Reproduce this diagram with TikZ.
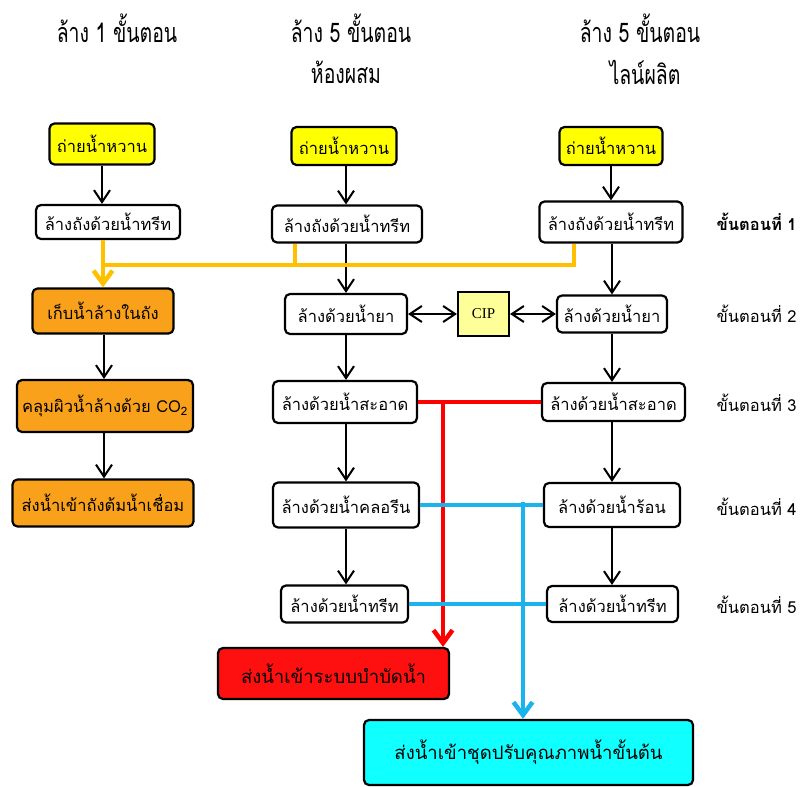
\documentclass[tikz,border=0pt]{standalone}
\usepackage{fontspec}
\usetikzlibrary{positioning,arrows.meta}
\newfontfamily\thaifont[Script=Thai]{Loma}
\newfontfamily\headfont[Script=Thai,FakeStretch=0.72]{Loma}
\newfontfamily\cipfont{Liberation Serif}
\definecolor{Syrup}{HTML}{FFFF00}
\definecolor{Store}{HTML}{F9A11B}
\definecolor{Drain}{HTML}{FF1010}
\definecolor{Treat}{HTML}{10FFFF}
\definecolor{CipFill}{HTML}{FFFF99}
\definecolor{Reuse}{HTML}{FFC000}
\definecolor{Rinse}{HTML}{1BB3EE}
\definecolor{Waste}{HTML}{FF0000}

\begin{document}
\begin{tikzpicture}[x=1pt, y=-1pt, every node/.style={font=\thaifont\fontsize{16.5}{19}\selectfont}]
        \tikzstyle{box}=[draw, line width=2.2pt, rounded corners=5pt, inner sep=2pt, fill=white]
        \tikzstyle{big}=[font=\thaifont\fontsize{18.5}{22}\selectfont]
        \tikzstyle{head}=[font=\headfont\fontsize{27}{30}\selectfont]
        \tikzstyle{flow}=[line width=2pt, -{Straight Barb[length=12pt,width=16pt]}]
        \tikzstyle{both}=[line width=2pt, {Straight Barb[length=12pt,width=16pt]}-{Straight Barb[length=12pt,width=16pt]}]
        \tikzstyle{pipe}=[line width=4.5pt, -{Straight Barb[length=13pt,width=19pt]}]
        \useasboundingbox (0,0) rectangle (804,787);

        % headings
        \node[head] (h1) at (117,28) {ล้าง 1 ขั้นตอน};
        \node[head] (h2) at (351,28) {ล้าง 5 ขั้นตอน};
        \node[head] (h2b) at (346,72) {ห้องผสม};
        \node[head] (h3) at (640,28) {ล้าง 5 ขั้นตอน};
        \node[head] (h3b) at (645,72) {ไลน์ผลิต};

        % one-step wash
        \node[box, fill=Syrup, minimum width=105pt, minimum height=41pt] (y1) at (102,144) {ถ่ายน้ำหวาน};
        \node[box, minimum width=144pt, minimum height=34pt] (w1) at (108,222) {ล้างถังด้วยน้ำทรีท};
        \node[box, fill=Store, minimum width=141pt, minimum height=45pt] (o1) at (103,311) {เก็บน้ำล้างในถัง};
        \node[box, fill=Store, minimum width=176pt, minimum height=52pt] (o2) at (105,406) {คลุมผิวน้ำล้างด้วย CO\textsubscript{2}};
        \node[box, fill=Store, minimum width=181pt, minimum height=47pt] (o3) at (103,503) {ส่งน้ำเข้าถังต้มน้ำเชื่อม};

        % five-step wash, mixing room
        \node[box, fill=Syrup, minimum width=105pt, minimum height=38pt] (y2) at (344,146) {ถ่ายน้ำหวาน};
        \node[box, minimum width=150pt, minimum height=37pt] (w2) at (347,224) {ล้างถังด้วยน้ำทรีท};
        \node[box, minimum width=122pt, minimum height=40pt] (c2) at (346,314) {ล้างด้วยน้ำยา};
        \node[box, minimum width=144pt, minimum height=42pt] (s2) at (345,402) {ล้างด้วยน้ำสะอาด};
        \node[box, minimum width=146pt, minimum height=45pt] (k2) at (346,505) {ล้างด้วยน้ำคลอรีน};
        \node[box, minimum width=127pt, minimum height=37pt] (t2) at (344.5,604) {ล้างด้วยน้ำทรีท};

        % five-step wash, production line
        \node[box, fill=Syrup, minimum width=103pt, minimum height=38pt] (y3) at (611,146) {ถ่ายน้ำหวาน};
        \node[box, minimum width=143pt, minimum height=41pt] (w3) at (611,222) {ล้างถังด้วยน้ำทรีท};
        \node[box, minimum width=110pt, minimum height=37pt] (c3) at (612,314) {ล้างด้วยน้ำยา};
        \node[box, minimum width=143pt, minimum height=38pt] (s3) at (613.5,402) {ล้างด้วยน้ำสะอาด};
        \node[box, minimum width=136pt, minimum height=44pt] (r3) at (612,505) {ล้างด้วยน้ำร้อน};
        \node[box, minimum width=131pt, minimum height=36pt] (t3) at (612.5,604) {ล้างด้วยน้ำทรีท};

        \node[draw, line width=2.2pt, fill=CipFill, minimum width=51pt, minimum height=44pt, font=\cipfont\fontsize{15}{18}\selectfont] (cip) at (483.5,314) {CIP};
        \node[box, big, fill=Drain, minimum width=231pt, minimum height=51pt] (d) at (333.5,673.5) {ส่งน้ำเข้าระบบบำบัดน้ำ};
        \node[box, big, fill=Treat, minimum width=329pt, minimum height=65pt] (p) at (528.5,752.5) {ส่งน้ำเข้าชุดปรับคุณภาพน้ำขั้นต้น};

        % step labels
        \node[anchor=west, font=\thaifont\bfseries\fontsize{16.5}{19}\selectfont] (n1) at (713,222) {ขั้นตอนที่ 1};
        \node[anchor=west] (n2) at (713,314) {ขั้นตอนที่ 2};
        \node[anchor=west] (n3) at (713,403) {ขั้นตอนที่ 3};
        \node[anchor=west] (n4) at (713,507) {ขั้นตอนที่ 4};
        \node[anchor=west] (n5) at (713,605) {ขั้นตอนที่ 5};

        % black flow down each column
        \draw[flow] (y1) -- (y1 |- w1.north);
        \draw[flow] ([xshift=1pt]o1.south) -- ([xshift=1pt]o1.south |- o2.north);
        \draw[flow] ([xshift=1pt]o1.south |- o2.south) -- ([xshift=1pt]o1.south |- o3.north);
        \draw[flow] (y2.south -| c2) -- (c2 |- w2.north);
        \draw[flow] (w2.south -| c2) -- (c2.north);
        \draw[flow] (c2) -- (c2 |- s2.north);
        \draw[flow] (c2 |- s2.south) -- (c2 |- k2.north);
        \draw[flow] (c2 |- k2.south) -- (c2 |- t2.north);
        \draw[flow] (y3) -- (y3 |- w3.north);
        \draw[flow] (w3.south -| c3) -- (c3.north);
        \draw[flow] (c3) -- (c3 |- s3.north);
        \draw[flow] (c3 |- s3.south) -- (c3 |- r3.north);
        \draw[flow] (c3 |- r3.south) -- (c3 |- t3.north);

        % cleaning agent loop
        \draw[both] (c2) -- (cip);
        \draw[both] (cip) -- (c3);

        % first rinse back to the storage tank
        \coordinate (ym) at (295,265);
        \coordinate (yr) at (574,265);
        \draw[line width=4.5pt, Reuse] (w3.south -| yr) -- (yr) -- (yr -| o1);
        \draw[line width=4.5pt, Reuse] (w2.south -| ym) -- (ym);
        \draw[pipe, Reuse] (w1.south -| o1) -- (o1.north);

        % clean water to waste treatment
        \coordinate (rd) at (443,402);
        \draw[line width=4.5pt, Waste] (s2) -- (s3);
        \draw[pipe, Waste] (rd) -- (rd |- d.north);

        % chlorine, hot water and treated rinse to pre-treatment
        \coordinate (bd) at (523,502);
        \draw[line width=4.5pt, Rinse] (k2) -- (r3);
        \draw[line width=4.5pt, Rinse] (t2) -- (t3);
        \draw[pipe, Rinse] (bd) -- (bd |- p.north);
      \end{tikzpicture}
\end{document}
